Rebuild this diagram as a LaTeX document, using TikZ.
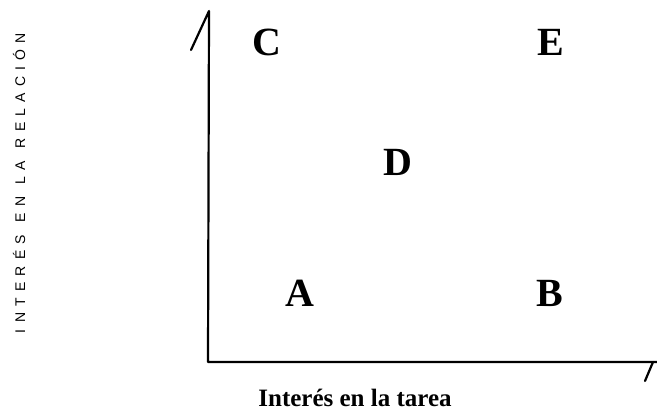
\documentclass[tikz,border=0pt]{standalone}
\usepackage{fontspec}
\setmainfont{Liberation Serif}
\newfontfamily\axisfont{Liberation Sans}
\begin{document}
\begin{tikzpicture}[x=1pt,y=-1pt,
  axis/.style={line width=2.2pt, line cap=round, line join=round},
  letter/.style={font=\fontsize{40}{40}\selectfont\bfseries, inner sep=0pt, anchor=base},
  xlabel/.style={font=\fontsize{25}{26}\selectfont\bfseries, inner sep=0pt, anchor=base},
  ylabel/.style={font=\axisfont\fontsize{14}{14}\selectfont, inner sep=0pt, rotate=90}]
\useasboundingbox (0,0) rectangle (657,413);
\coordinate (O) at (208,362);
\coordinate (Ytop) at (209,11);
\coordinate (Ytick) at (191,50);
\coordinate (Xend) at (657,362);
\coordinate (Xtip) at (653,362);
\coordinate (Xtick) at (645,381);
\draw[axis] (Ytick) -- (Ytop) -- (O) -- (Xend);
\draw[axis] (Xtip) -- (Xtick);
\node[letter] (C) at (267,55) {C};
\node[letter] (E) at (551,55) {E};
\node[letter] (D) at (398,175) {D};
\node[letter] (A) at (300,306) {A};
\node[letter] (B) at (550,306) {B};
\node[xlabel] (xl) at (355,406) {Interés en la tarea};
\node[ylabel] (yl) at (19,183) {\makebox[300pt]{I\hfill N\hfill T\hfill E\hfill R\hfill É\hfill S\hfill\hfill E\hfill N\hfill\hfill L\hfill A\hfill\hfill R\hfill E\hfill L\hfill A\hfill C\hfill I\hfill Ó\hfill N}};
\end{tikzpicture}
\end{document}
